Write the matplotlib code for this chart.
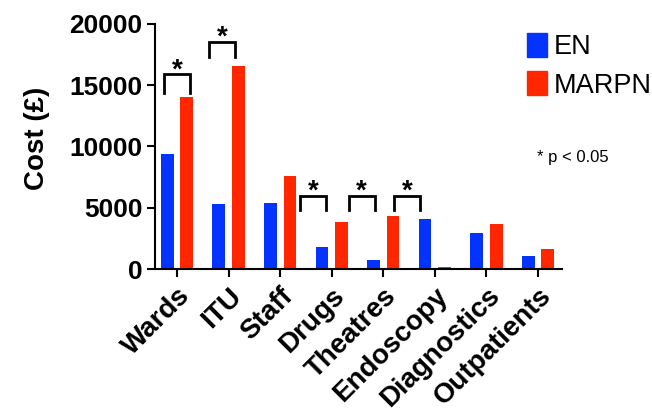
import numpy as np
import matplotlib
matplotlib.use("Agg")
import matplotlib.pyplot as plt
from matplotlib.patches import Patch

plt.rcParams['font.family'] = ['Liberation Sans', 'DejaVu Sans']

# data
categories = ['Wards', 'ITU', 'Staff', 'Drugs', 'Theatres', 'Endoscopy', 'Diagnostics', 'Outpatients']
en = [9400, 5300, 5350, 1800, 700, 4050, 2900, 1050]
marpn = [14000, 16600, 7600, 3850, 4300, 180, 3650, 1600]

# significance brackets: category, top of bracket, bottom of legs
sig_cats = ['Wards', 'ITU', 'Drugs', 'Theatres', 'Endoscopy']
sig_top = [15900, 18550, 5950, 5950, 5950]
sig_bottom = [14350, 17300, 4800, 4800, 4800]
sig_shift = [0.0, -0.12, -0.36, -0.42, -0.54]

blue = '#0433FF'
red = '#FF2600'

fig = plt.figure(figsize=(6.52, 4.2), dpi=100)
ax = fig.add_axes([0.2377, 0.3595, 0.8620 - 0.2377, 0.9429 - 0.3595])

x = np.arange(len(categories))
w = 0.245
ax.bar(x - 0.19, en, w, color=blue)
ax.bar(x + 0.19, marpn, w, color=red)

# brackets with stars
for c, top, bot, s in zip(sig_cats, sig_top, sig_bottom, sig_shift):
    i = categories.index(c) + s
    ax.plot([i - 0.25, i - 0.25, i + 0.25, i + 0.25], [bot, top, top, bot],
            color='black', lw=2, solid_joinstyle='miter', clip_on=False)
    ax.text(i, top + 330, '*', ha='center', va='center', fontsize=20,
            fontweight='bold')

ax.set_xlim(-0.427, 7.466)
ax.set_ylim(0, 20000)
ax.set_yticks([0, 5000, 10000, 15000, 20000])
ax.set_xticks(x)
ax.set_xticklabels(categories, rotation=45, ha='right', rotation_mode='anchor',
                   fontsize=20, fontweight='bold')
for lab in ax.get_yticklabels():
    lab.set_fontweight('bold')
    lab.set_fontsize(19)
ax.tick_params(axis='both', direction='out', length=6, width=1.5, pad=3)
ax.tick_params(axis='x', pad=4)
ax.set_ylabel('Cost (£)', fontsize=20, fontweight='bold')
ax.yaxis.set_label_coords(-0.258, 0.535)

for sp in ['top', 'right']:
    ax.spines[sp].set_visible(False)
for sp in ['left', 'bottom']:
    ax.spines[sp].set_linewidth(1.5)

handles = [Patch(color=blue), Patch(color=red)]
fig.legend(handles, ['EN', 'MARPN'], loc='upper left',
           bbox_to_anchor=(527 / 652, 1 - 33 / 420), frameon=False,
           fontsize=19.5, borderpad=0, borderaxespad=0,
           handlelength=0.74, handleheight=1.0, handletextpad=0.26,
           labelspacing=0.4)

fig.text(0.823, 0.626, '* p < 0.05', fontsize=12, va='center')

fig.savefig('out.png', dpi=100)
